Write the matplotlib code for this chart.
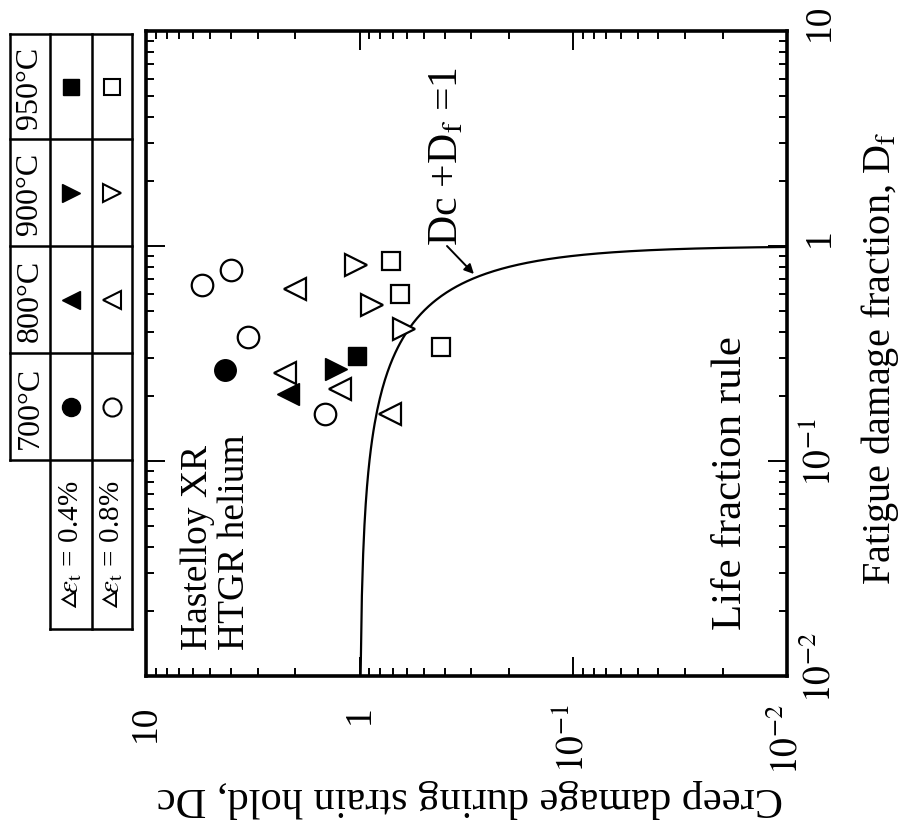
import numpy as np
import matplotlib
matplotlib.use('Agg')
import matplotlib.pyplot as plt
import matplotlib.transforms as mtransforms
from matplotlib.ticker import FixedLocator, NullFormatter

plt.rcParams['font.family'] = ['Liberation Serif', 'DejaVu Serif']
plt.rcParams['mathtext.fontset'] = 'stix'

# ---- data: fatigue damage fraction Df, creep damage Dc ----
temps = ['700°C', '800°C', '900°C', '950°C']
df_700_04 = [0.265]
dc_700_04 = [4.26]
df_700_08 = [0.659, 0.776, 0.379, 0.165]
dc_700_08 = [5.47, 4.01, 3.33, 1.46]
df_800_04 = [0.205]
dc_800_04 = [2.16]
df_800_08 = [0.631, 0.257, 0.216, 0.166]
dc_800_08 = [2.00, 2.24, 1.24, 0.723]
df_900_04 = [0.268]
dc_900_04 = [1.29]
df_900_08 = [0.816, 0.532, 0.411]
dc_900_08 = [1.04, 0.873, 0.62]
df_950_04 = [0.309]
dc_950_04 = [1.03]
df_950_08 = [0.849, 0.598, 0.338]
dc_950_08 = [0.71, 0.65, 0.416]

W, H = 904, 829
fig = plt.figure(figsize=(W / 100, H / 100), dpi=100)
L, R, T, B = 146, 787, 32, 677
ax = fig.add_axes([L / W, (H - B) / H, (R - L) / W, (B - T) / H])

# Rotated chart: horizontal = Dc (decreasing to the right), vertical = Df
ax.set_xscale('log')
ax.set_yscale('log')
ax.set_xlim(10, 0.01)
ax.set_ylim(0.01, 10)

# life fraction rule Dc + Df = 1
dc_line = np.logspace(np.log10(0.99), -3, 500)
df_line = 1 - dc_line
ax.plot(dc_line, df_line, color='black', lw=1.6, zorder=2)

ms_c, ms_t, ms_s = 15.5, 15.5, 13.5
ew = 1.6
kw = dict(linestyle='none', color='black', zorder=3)
ax.plot(dc_700_04, df_700_04, marker='o', ms=ms_c, mfc='black', mec='black', **kw)
ax.plot(dc_700_08, df_700_08, marker='o', ms=ms_c, mfc='white', mec='black', mew=ew, **kw)
ax.plot(dc_800_04, df_800_04, marker='<', ms=ms_t, mfc='black', mec='black', **kw)
ax.plot(dc_800_08, df_800_08, marker='<', ms=ms_t, mfc='white', mec='black', mew=ew, **kw)
ax.plot(dc_900_04, df_900_04, marker='>', ms=ms_t, mfc='black', mec='black', **kw)
ax.plot(dc_900_08, df_900_08, marker='>', ms=ms_t, mfc='white', mec='black', mew=ew, **kw)
ax.plot(dc_950_04, df_950_04, marker='s', ms=ms_s, mfc='black', mec='black', **kw)
ax.plot(dc_950_08, df_950_08, marker='s', ms=ms_s, mfc='white', mec='black', mew=ew, **kw)

# ticks
majors = [0.01, 0.1, 1, 10]
minors = [m * 10.0 ** e for e in (-2, -1, 0) for m in range(2, 10)]
for axis in (ax.xaxis, ax.yaxis):
    axis.set_major_locator(FixedLocator(majors))
    axis.set_minor_locator(FixedLocator(minors))
    axis.set_minor_formatter(NullFormatter())
ax.set_xticklabels(['$10^{-2}$', '$10^{-1}$', '1', '10'])
ax.set_yticklabels(['$10^{-2}$', '$10^{-1}$', '1', '10'])
ax.tick_params(which='both', direction='in', top=True, bottom=True, left=True, right=True,
               width=1.4, color='black')
ax.tick_params(which='major', length=14)
ax.tick_params(which='minor', length=6)
ax.tick_params(axis='x', which='major', labelsize=27, pad=20, labelrotation=90)
ax.tick_params(axis='y', which='major', labelsize=27, pad=11, labelrotation=90,
               labelleft=False, labelright=True)
up = mtransforms.ScaledTranslation(0, 7 / 72, fig.dpi_scale_trans)
for lab in ax.get_yticklabels():
    lab.set_verticalalignment('center')
    lab.set_transform(lab.get_transform() + up)
for s in ax.spines.values():
    s.set_linewidth(2.6)

# overlay in pixel coordinates for annotations and the legend table
ov = fig.add_axes([0, 0, 1, 1], zorder=5)
ov.set_xlim(0, W)
ov.set_ylim(H, 0)
ov.axis('off')
ov.patch.set_alpha(0)

fig.text(470 / W, 1 - 799 / H, 'Creep damage during strain hold, Dc',
         rotation=180, ha='center', va='center', fontsize=30.5)
ov.text(880, 358, r'Fatigue damage fraction, D$_\mathrm{f}$', rotation=90,
        ha='center', va='center', fontsize=29)

ov.text(198, 650, 'Hastelloy XR', rotation=90, ha='center', va='bottom', fontsize=27)
ov.text(235, 650, 'HTGR helium', rotation=90, ha='center', va='bottom', fontsize=27)
ov.text(731, 630, 'Life fraction rule', rotation=90, ha='center', va='bottom', fontsize=31)
ov.text(447, 246, r'Dc +D$_\mathrm{f}$ =1', rotation=90, ha='center', va='bottom', fontsize=30)
ax.annotate('', xy=(0.292, 0.741), xycoords='data',
            xytext=(447, 247), textcoords=ov.transData,
            arrowprops=dict(arrowstyle='-|>', color='black', lw=1.4,
                            mutation_scale=14, shrinkA=0, shrinkB=0))

# legend table
tl = dict(color='black', lw=1.8, solid_capstyle='projecting')
xc = [10, 50, 92, 132]
yc = [35, 140, 247, 354, 461]
for y in yc:
    ov.plot([xc[0], xc[3]], [y, y], **tl)
ov.plot([xc[0], xc[0]], [yc[0], yc[4]], **tl)
for x in xc[1:]:
    ov.plot([x, x], [yc[0], 630], **tl)
ov.plot([xc[1], xc[3]], [630, 630], **tl)

temp_order = ['950°C', '900°C', '800°C', '700°C']
mk = {'950°C': 's', '900°C': '>', '800°C': '<', '700°C': 'o'}
for i, t in enumerate(temp_order):
    yy = 0.5 * (yc[i] + yc[i + 1])
    ov.text(30, yy, t, rotation=90, ha='center', va='center', fontsize=23)
    m = mk[t]
    size = 11 if m == 's' else 13
    ov.plot([71], [yy], marker=m, ms=size, mfc='black', mec='black', linestyle='none')
    ov.plot([112], [yy], marker=m, ms=size, mfc='white', mec='black', mew=1.5, linestyle='none')
ov.text(71, 545, r'$\vartriangle\!\epsilon_\mathrm{t}$ = 0.4%', rotation=90,
        ha='center', va='center', fontsize=21)
ov.text(112, 545, r'$\vartriangle\!\epsilon_\mathrm{t}$ = 0.8%', rotation=90,
        ha='center', va='center', fontsize=21)

fig.savefig('out.png', dpi=100)
